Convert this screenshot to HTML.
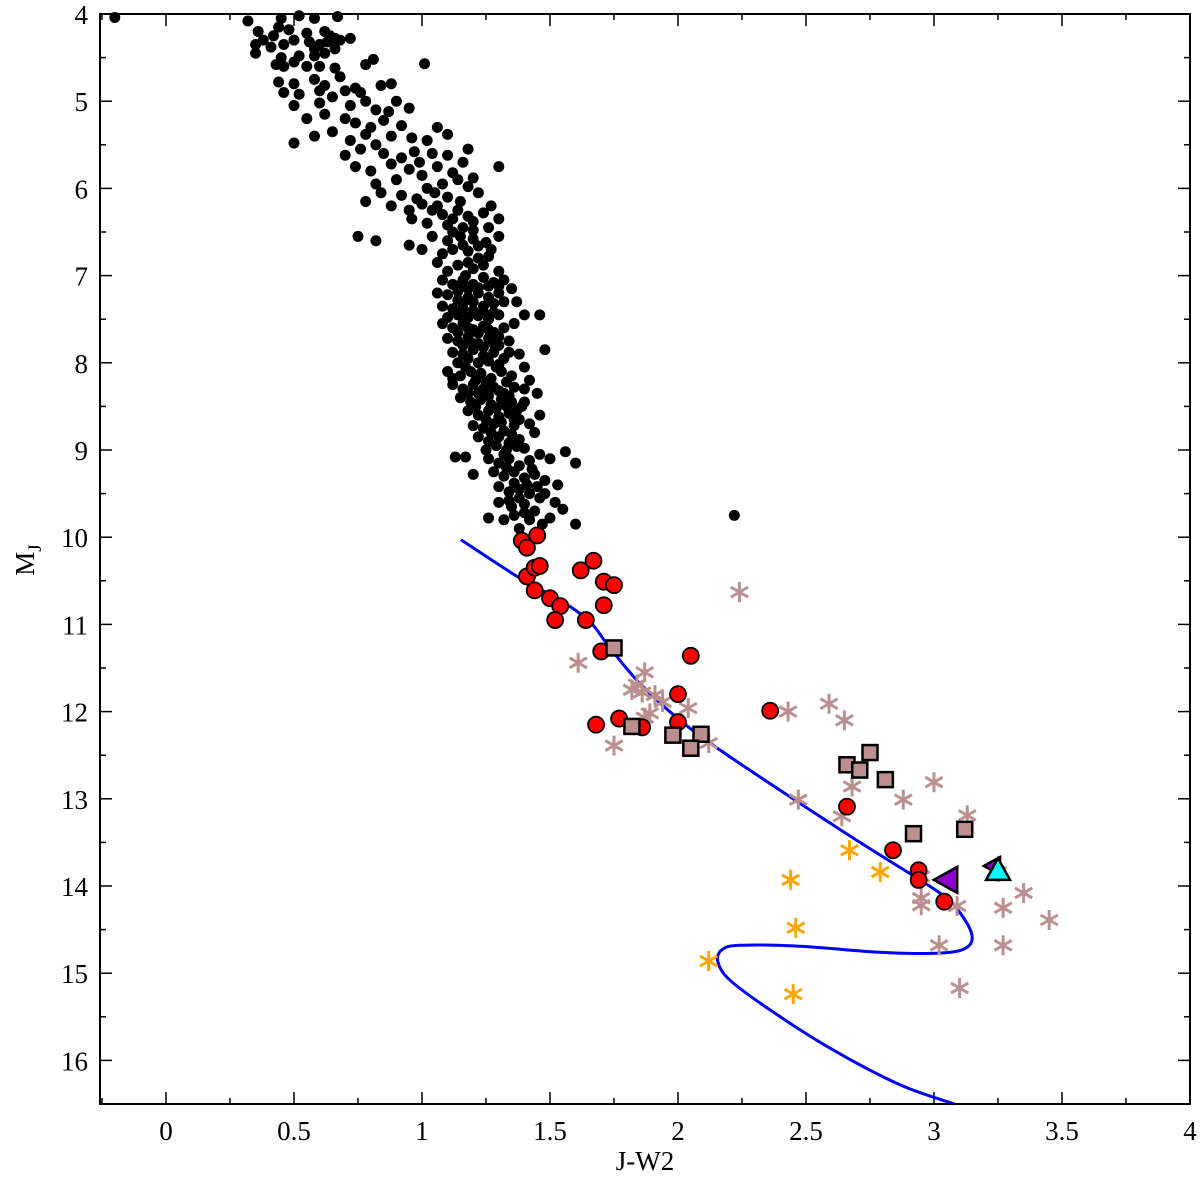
<!DOCTYPE html>
<html><head><meta charset="utf-8"><title>CMD J-W2 vs MJ</title>
<style>html,body{margin:0;padding:0;background:#fff;}svg{display:block;}text{font-family:"Liberation Serif",serif;fill:#000;}</style>
</head><body>
<svg id="chart" width="1200" height="1180" viewBox="0 0 1200 1180" xmlns="http://www.w3.org/2000/svg">
<g id="ticks"></g>
<g id="marks"></g>
<rect x="100" y="14" width="1090" height="1090" fill="none" stroke="#000" stroke-width="2"/>
<text x="645" y="1170" font-size="27" text-anchor="middle">J-W2</text>
<text transform="translate(34,560) rotate(-90)" font-size="27" text-anchor="middle">M<tspan font-size="19" dy="7">J</tspan></text>
</svg>
<script>
const xTicks=[0,0.5,1,1.5,2,2.5,3,3.5,4];
const xTickLabels=["0","0.5","1","1.5","2","2.5","3","3.5","4"];
const yTicks=[4,5,6,7,8,9,10,11,12,13,14,15,16];
const yTickLabels=["4","5","6","7","8","9","10","11","12","13","14","15","16"];
const fieldStars=[[-0.2,4.04],[0.32,4.08],[0.45,4.05],[0.52,4.02],[0.58,4.05],[0.67,4.03],[0.36,4.2],[0.42,4.25],[0.44,4.15],[0.48,4.18],[0.55,4.22],[0.62,4.2],[0.64,4.25],[0.66,4.28],[0.68,4.3],[0.72,4.28],[0.35,4.35],[0.38,4.3],[0.41,4.38],[0.46,4.35],[0.5,4.3],[0.56,4.32],[0.58,4.4],[0.6,4.35],[0.63,4.32],[0.66,4.4],[0.35,4.45],[0.45,4.5],[0.52,4.48],[0.58,4.48],[0.62,4.45],
[0.43,4.58],[0.46,4.6],[0.5,4.55],[0.55,4.6],[0.6,4.6],[0.66,4.62],[0.78,4.58],[0.81,4.52],[1.01,4.57],[0.44,4.78],[0.5,4.8],[0.58,4.75],[0.62,4.82],[0.68,4.72],[0.74,4.85],[0.84,4.82],[0.88,4.8],[0.46,4.9],[0.52,4.92],[0.65,4.95],[0.7,4.88],[0.76,4.9],[0.6,4.88],
[0.5,5.05],[0.6,5.02],[0.72,5.05],[0.78,5.0],[0.82,5.1],[0.87,5.12],[0.9,5.0],[0.95,5.08],[0.55,5.2],[0.62,5.15],[0.7,5.2],[0.74,5.25],[0.8,5.3],[0.85,5.22],[0.92,5.28],[1.06,5.3],[1.1,5.38],[0.5,5.48],[0.58,5.4],[0.65,5.35],[0.72,5.45],[0.78,5.38],[0.88,5.4],[0.96,5.42],[1.02,5.45],[0.82,5.5],[1.3,5.75],[1.18,5.55],
[0.7,5.62],[0.76,5.55],[0.85,5.6],[0.92,5.65],[0.97,5.58],[0.99,5.7],[1.04,5.6],[1.1,5.62],[0.74,5.75],[0.8,5.8],[0.88,5.72],[0.95,5.78],[1.0,5.85],[1.06,5.75],[1.12,5.82],[1.16,5.7],[0.82,5.95],[0.9,5.9],[1.08,5.95],[1.14,5.9],[1.2,5.88],[1.18,5.98],[1.02,6.0],
[0.84,6.05],[0.92,6.08],[0.98,6.12],[1.05,6.05],[1.1,6.1],[1.15,6.15],[1.22,6.05],[1.27,6.2],[0.78,6.15],[0.88,6.2],[0.95,6.25],[1.0,6.18],[1.04,6.25],[1.08,6.3],[1.14,6.25],[1.18,6.32],[1.24,6.28],[0.96,6.35],[1.02,6.4],[1.1,6.42],[1.16,6.45],[1.2,6.38],[1.26,6.45],[1.3,6.35],[0.75,6.55],[0.82,6.6],
[1.04,6.55],[1.1,6.6],[1.15,6.55],[1.2,6.58],[1.25,6.62],[1.3,6.55],[0.95,6.65],[1.0,6.7],[1.08,6.75],[1.12,6.7],[1.18,6.72],[1.22,6.8],[1.27,6.7],[1.06,6.85],[1.14,6.88],[1.2,6.92],[1.24,6.88],[1.3,6.95],[1.1,6.95],[1.17,7.0],
[1.08,7.05],[1.12,7.1],[1.16,7.05],[1.2,7.1],[1.24,7.02],[1.28,7.08],[1.32,7.05],[1.06,7.2],[1.1,7.22],[1.14,7.18],[1.18,7.25],[1.22,7.2],[1.26,7.25],[1.3,7.2],[1.35,7.15],[1.08,7.35],[1.12,7.38],[1.16,7.32],[1.2,7.4],[1.24,7.35],[1.28,7.42],[1.32,7.3],[1.37,7.3],[1.4,7.45],[1.1,7.48],[1.18,7.48],[1.26,7.5],[1.46,7.45],
[1.08,7.55],[1.12,7.6],[1.16,7.55],[1.2,7.62],[1.24,7.58],[1.28,7.65],[1.32,7.6],[1.36,7.55],[1.1,7.72],[1.14,7.75],[1.18,7.7],[1.22,7.78],[1.26,7.72],[1.3,7.8],[1.34,7.75],[1.12,7.88],[1.16,7.9],[1.2,7.85],[1.24,7.92],[1.28,7.88],[1.32,7.95],[1.38,7.9],[1.14,8.0],[1.22,8.0],[1.3,8.02],[1.48,7.85],
[1.1,8.1],[1.15,8.15],[1.19,8.1],[1.23,8.12],[1.27,8.18],[1.31,8.1],[1.35,8.15],[1.12,8.25],[1.16,8.3],[1.2,8.25],[1.24,8.3],[1.28,8.28],[1.32,8.35],[1.36,8.28],[1.4,8.3],[1.15,8.4],[1.19,8.45],[1.23,8.42],[1.27,8.48],[1.31,8.42],[1.35,8.45],[1.39,8.5],[1.45,8.35],[1.42,8.2],[1.4,8.05],
[1.18,8.55],[1.22,8.6],[1.26,8.55],[1.3,8.62],[1.34,8.58],[1.38,8.65],[1.2,8.72],[1.24,8.75],[1.28,8.7],[1.32,8.78],[1.36,8.72],[1.42,8.7],[1.22,8.85],[1.26,8.9],[1.3,8.85],[1.34,8.92],[1.38,8.88],[1.44,8.8],[1.25,9.0],[1.33,9.0],[1.4,8.98],[1.46,8.6],
[1.13,9.08],[1.17,9.08],[1.26,9.1],[1.3,9.15],[1.34,9.1],[1.38,9.18],[1.42,9.12],[1.46,9.05],[1.5,9.1],[1.56,9.02],[1.6,9.15],[1.28,9.25],[1.32,9.3],[1.36,9.25],[1.4,9.32],[1.44,9.28],[1.48,9.35],[1.53,9.4],[1.2,9.28],[1.3,9.42],[1.34,9.48],[1.38,9.45],[1.42,9.5],[1.46,9.55],[1.52,9.6],[1.3,9.6],[1.35,9.65],[1.4,9.62],[1.44,9.7],[1.5,9.78],[1.55,9.68],[1.26,9.78],[1.32,9.8],[1.36,9.75],[1.42,9.8],[1.47,9.85],[1.38,9.9],[1.6,9.85],[2.22,9.75],[1.48,9.5],
[1.14,7.12],[1.18,7.15],[1.22,7.14],[1.26,7.12],[1.3,7.12],[1.14,7.28],[1.2,7.3],[1.28,7.32],[1.14,7.45],[1.22,7.46],[1.3,7.45],[1.14,7.65],[1.18,7.6],[1.22,7.66],[1.26,7.62],[1.3,7.7],[1.16,7.8],[1.2,7.78],[1.24,7.82],[1.28,7.78],[1.18,7.95],[1.26,7.98],[1.34,7.88],[1.17,8.05],[1.21,8.2],[1.25,8.22],[1.29,8.05],[1.33,8.22],[1.18,8.35],[1.22,8.35],[1.26,8.38],[1.3,8.32],[1.34,8.38],[1.21,8.5],[1.25,8.65],[1.29,8.52],[1.33,8.5],[1.37,8.55],[1.27,8.8],[1.31,8.68],[1.35,8.82],[1.29,8.95],[1.37,8.96],[1.32,9.05],[1.36,9.38],[1.41,9.4],[1.33,9.2],[1.45,9.42],[1.38,9.55],[1.4,9.72],[1.34,9.58],[1.16,6.65],[1.22,6.66],[1.18,6.85],[1.26,6.78],[1.12,6.5],[1.2,6.48],[1.06,6.2],[1.12,6.35],[1.16,7.38],[1.24,7.42],[1.12,8.18],[1.4,8.45],[1.36,8.65],[1.43,9.22]];
const isoX=[1.152,1.383,1.539,1.656,1.734,1.852,2.008,2.164,2.398,2.711,3.023,3.10,3.148,3.125,3.023,2.789,2.477,2.242,2.172,2.156,2.203,2.359,2.594,2.867,3.08];
const isoY=[10.03,10.47,10.72,10.97,11.27,11.68,12.10,12.44,12.90,13.50,14.08,14.30,14.56,14.71,14.77,14.76,14.69,14.68,14.73,14.87,15.08,15.42,15.86,16.28,16.50];
const brownStars=[[2.24,10.63],[1.61,11.44],[1.87,11.55],[1.84,11.69],[1.82,11.75],[1.86,11.78],[1.91,11.81],[1.94,11.89],[2.04,11.96],[1.87,12.07],[1.75,12.39],[1.89,12.02],[2.12,12.36],[2.43,12.0],[2.59,11.91],[2.65,12.1],[2.68,12.86],[2.47,13.01],[2.64,13.2],[2.88,13.01],[3.0,12.81],[3.13,13.19],[2.95,13.89],[2.95,14.14],[2.95,14.22],[3.09,14.23],[3.35,14.08],[3.27,14.25],[3.45,14.39],[3.27,14.68],[3.02,14.68],[3.1,15.17],[3.25,13.84]];
const redStars=[[1.39,10.04],[1.41,10.12],[1.45,9.98],[1.41,10.45],[1.44,10.35],[1.46,10.33],[1.44,10.61],[1.5,10.7],[1.54,10.79],[1.52,10.95],[1.62,10.38],[1.67,10.27],[1.71,10.51],[1.75,10.55],[1.71,10.78],[1.64,10.95],[1.7,11.31],[2.05,11.36],[1.68,12.15],[1.77,12.08],[1.86,12.18],[2.0,12.12],[2.0,11.8],[2.36,11.99],[2.66,13.09],[2.84,13.59],[2.94,13.82],[2.94,13.93],[3.04,14.18]];
const squares=[[1.75,11.27],[1.82,12.17],[1.98,12.27],[2.09,12.26],[2.05,12.42],[2.66,12.61],[2.75,12.47],[2.71,12.67],[2.81,12.78],[2.92,13.4],[3.12,13.35]];
const orangeStars=[[2.67,13.59],[2.79,13.84],[2.44,13.93],[2.46,14.48],[2.12,14.86],[2.45,15.24]];
const purpleTri=[[3.05,13.93],[3.23,13.77]];
const cyanTri=[[3.25,13.82]];

const NS="http://www.w3.org/2000/svg";
const X=v=>166+v*256, Y=v=>14+(v-4)*87.2;
const tg=document.getElementById('ticks'), mg=document.getElementById('marks');
function mk(tag,attrs,parent){const e=document.createElementNS(NS,tag);for(const k in attrs)e.setAttribute(k,attrs[k]);parent.appendChild(e);return e;}
for(let v=-0.25;v<=4.001;v+=0.25){const x=X(v);const maj=Math.abs(v*2-Math.round(v*2))<1e-6;const L=maj?12:6;
 const t1=mk('line',{x1:x,x2:x,y1:1104,y2:1104-L,stroke:'#000','stroke-width':1.5},tg);
 
 
 const t2=mk('line',{x1:x,x2:x,y1:14,y2:14+L,stroke:'#000','stroke-width':1.5},tg);
 
 }
for(let v=4;v<=16.5001;v+=0.5){const y=Y(v);const maj=Math.abs(v-Math.round(v))<1e-6;const L=maj?12:6;
 const t1=mk('line',{x1:100,x2:100+L,y1:y,y2:y,stroke:'#000','stroke-width':1.5},tg);
 
 
 const t2=mk('line',{x1:1190,x2:1190-L,y1:y,y2:y,stroke:'#000','stroke-width':1.5},tg);
 
 }
xTicks.forEach((v,i)=>{const t=mk('text',{x:X(v),y:1140,'font-size':27,'text-anchor':'middle'},tg);t.textContent=xTickLabels[i];
 
 });
yTicks.forEach((v,i)=>{const t=mk('text',{x:88,y:Y(v)+10,'font-size':27,'text-anchor':'end'},tg);t.textContent=yTickLabels[i];
 
 });
fieldStars.forEach(p=>{const c=mk('circle',{cx:X(p[0]),cy:Y(p[1]),r:5.5,fill:'#000'},mg);
 
 });
// smooth isochrone (Catmull-Rom)
const P=isoX.map((v,i)=>[X(v),Y(isoY[i])]);
let d='M'+P[0][0].toFixed(1)+','+P[0][1].toFixed(1);
for(let i=0;i<P.length-1;i++){const p0=P[Math.max(0,i-1)],p1=P[i],p2=P[i+1],p3=P[Math.min(P.length-1,i+2)];
 const c1=[p1[0]+(p2[0]-p0[0])/6,p1[1]+(p2[1]-p0[1])/6],c2=[p2[0]-(p3[0]-p1[0])/6,p2[1]-(p3[1]-p1[1])/6];
 d+=` C${c1[0].toFixed(1)},${c1[1].toFixed(1)} ${c2[0].toFixed(1)},${c2[1].toFixed(1)} ${p2[0].toFixed(1)},${p2[1].toFixed(1)}`;}
const iso=mk('path',{d:d,fill:'none',stroke:'#0000ff','stroke-width':3,'stroke-linejoin':'round'},mg);


function star(p,col,name){const g=mk('g',{stroke:col,'stroke-width':3},mg);
 
 
 const x=X(p[0]),y=Y(p[1]),r=10;
 for(const a of [90,30,-30]){const rad=a*Math.PI/180;mk('line',{x1:x-r*Math.cos(rad),y1:y-r*Math.sin(rad),x2:x+r*Math.cos(rad),y2:y+r*Math.sin(rad)},g);}}
brownStars.forEach(p=>star(p,'#bc8f8f','brown-asterisk-point'));
redStars.forEach(p=>{const c=mk('circle',{cx:X(p[0]),cy:Y(p[1]),r:8,fill:'#ff0000',stroke:'#000','stroke-width':1.8},mg);
 
 });
squares.forEach(p=>{const s=mk('rect',{x:X(p[0])-7.5,y:Y(p[1])-7.5,width:15,height:15,fill:'#bc8f8f',stroke:'#000','stroke-width':2.5},mg);
 
 });
orangeStars.forEach(p=>star(p,'#ffa500','orange-asterisk-point'));
purpleTri.forEach((p,i)=>{const x=X(p[0]),y=Y(p[1]),s=i?9:13;
 const t=mk('polygon',{points:`${x-s},${y} ${x+s*0.8},${y-s} ${x+s*0.8},${y+s}`,fill:'#8b00d0',stroke:'#000','stroke-width':2.5},mg);
 
 });
cyanTri.forEach(p=>{const x=X(p[0]),y=Y(p[1]),s=12;
 const t=mk('polygon',{points:`${x},${y-s} ${x-s},${y+s*0.8} ${x+s},${y+s*0.8}`,fill:'#00ffff',stroke:'#000','stroke-width':2.5},mg);
 
 });
</script>
</body></html>
